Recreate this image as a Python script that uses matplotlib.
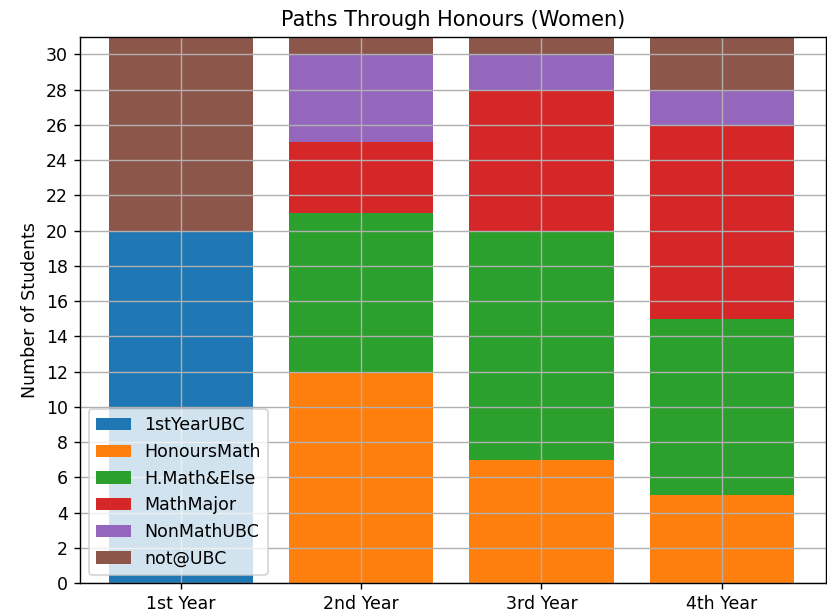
import matplotlib.pyplot as plt
import numpy as np

years = ["1st Year", "2nd Year", "3rd Year", "4th Year"]
labels = ["1stYearUBC", "HonoursMath", "H.Math&Else", "MathMajor", "NonMathUBC", "not@UBC"]
first_year_ubc = [20, 0, 0, 0]
honours_math = [0, 12, 7, 5]
hmath_else = [0, 9, 13, 10]
math_major = [0, 4, 8, 11]
non_math_ubc = [0, 5, 2, 2]
not_ubc = [11, 1, 1, 3]

series = [first_year_ubc, honours_math, hmath_else, math_major, non_math_ubc, not_ubc]

fig = plt.figure(figsize=(827 / 125, 612 / 125), dpi=125)
ax = fig.add_axes([0.097, 0.047, 0.902, 0.893])

x = np.arange(len(years))
bottom = np.zeros(len(years))
for vals, lab in zip(series, labels):
    ax.bar(x, vals, bottom=bottom, label=lab)
    bottom += np.array(vals)

ax.set_xticks(x)
ax.set_xticklabels(years)
ax.set_xlim(-0.56, 3.58)
ax.set_yticks(np.arange(0, 31, 2))
ax.set_ylim(0, 31)
ax.set_ylabel("Number of Students")
ax.set_title("Paths Through Honours (Women)")
ax.grid(True)
ax.legend(loc="lower left")

fig.savefig("out.png", dpi=125)
